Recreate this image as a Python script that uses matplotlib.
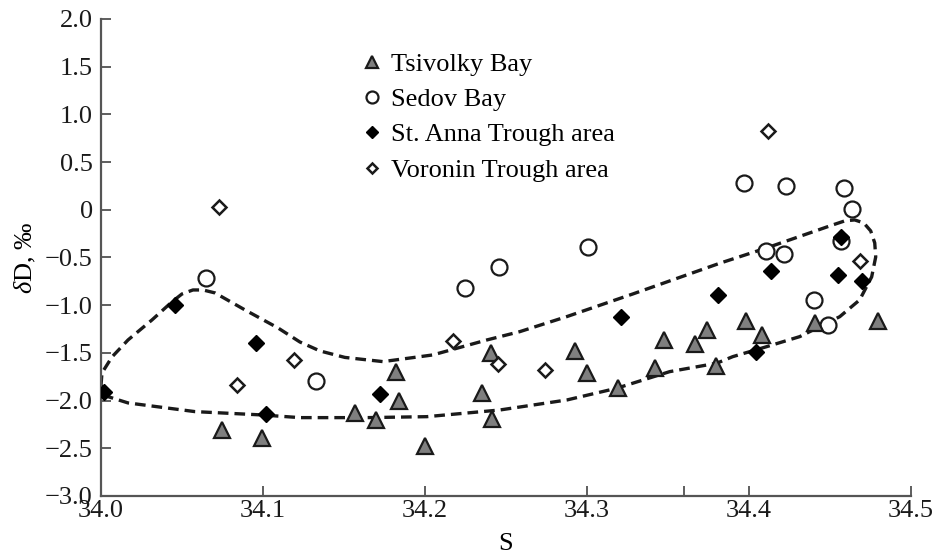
import matplotlib
matplotlib.use("Agg")
import matplotlib.pyplot as plt
from matplotlib.ticker import FixedLocator

plt.rcParams['font.family'] = ['Liberation Serif', 'DejaVu Serif']
plt.rcParams['mathtext.fontset'] = 'custom'
plt.rcParams['mathtext.rm'] = 'Liberation Serif'
plt.rcParams['mathtext.it'] = 'Liberation Serif:italic'

# Tsivolky Bay
tsiv_s = [34.075, 34.0995, 34.157, 34.170, 34.182, 34.184, 34.200, 34.235, 34.241, 34.2415,
          34.293, 34.300, 34.319, 34.342, 34.3475, 34.367, 34.374, 34.380, 34.398, 34.408,
          34.441, 34.480]
tsiv_d = [-2.31, -2.39, -2.13, -2.20, -1.70, -2.00, -2.48, -1.92, -1.50, -2.19,
          -1.48, -1.71, -1.87, -1.655, -1.37, -1.41, -1.26, -1.64, -1.17, -1.31,
          -1.19, -1.17]

# Sedov Bay
sedov_s = [34.065, 34.133, 34.225, 34.246, 34.301, 34.397, 34.423, 34.459, 34.464,
           34.4105, 34.422, 34.457, 34.440, 34.449]
sedov_d = [-0.72, -1.80, -0.82, -0.60, -0.39, 0.28, 0.25, 0.23, 0.01,
           -0.43, -0.46, -0.33, -0.95, -1.21]

# St. Anna Trough area
anna_s = [34.002, 34.0457, 34.0957, 34.1017, 34.172, 34.321, 34.381, 34.4136,
          34.455, 34.457, 34.470, 34.4047]
anna_d = [-1.91, -1.00, -1.40, -2.14, -1.93, -1.12, -0.89, -0.64,
          -0.68, -0.29, -0.75, -1.49]

# Voronin Trough area
vor_s = [34.073, 34.084, 34.119, 34.2175, 34.245, 34.274, 34.412, 34.469]
vor_d = [0.03, -1.84, -1.57, -1.38, -1.62, -1.68, 0.83, -0.54]

# hand-drawn envelope (dashed loop)
env_s = [34.000, 34.0006, 34.0068, 34.0167, 34.0315, 34.0438, 34.0500, 34.0568, 34.0630,
         34.0704, 34.0889, 34.1093, 34.1228, 34.1352, 34.1506, 34.1741, 34.2049, 34.2383,
         34.2586, 34.2877, 34.3284, 34.3821, 34.4111, 34.4519, 34.4593, 34.4654, 34.4710,
         34.4753, 34.4778, 34.4784, 34.4759, 34.4685, 34.4562, 34.4315, 34.4111, 34.3901,
         34.3802, 34.3512, 34.3185, 34.2877, 34.2463, 34.2012, 34.1642, 34.1228, 34.0994,
         34.0580, 34.0167, 34.0043, 34.000]
env_d = [-1.847, -1.711, -1.543, -1.365, -1.155, -0.966, -0.883, -0.841, -0.841,
         -0.872, -1.050, -1.239, -1.386, -1.480, -1.548, -1.592, -1.522, -1.365,
         -1.278, -1.120, -0.883, -0.561, -0.400, -0.159, -0.117, -0.107, -0.138,
         -0.222, -0.348, -0.495, -0.704, -0.945, -1.121, -1.330, -1.435, -1.540,
         -1.609, -1.697, -1.871, -1.994, -2.099, -2.169, -2.179, -2.179, -2.151,
         -2.116, -2.025, -1.959, -1.847]

x_ticks = [34.0, 34.1, 34.2, 34.3, 34.4, 34.5]
x_labels = ['34.0', '34.1', '34.2', '34.3', '34.4', '34.5']
y_ticks = [2.0, 1.5, 1.0, 0.5, 0.0, -0.5, -1.0, -1.5, -2.0, -2.5, -3.0]
y_labels = ['2.0', '1.5', '1.0', '0.5', '0', '\u22120.5', '\u22121.0', '\u22121.5',
            '\u22122.0', '\u22122.5', '\u22123.0']

fig = plt.figure(figsize=(9.35, 5.56), dpi=100)
ax = fig.add_axes([0.108, 0.108, 0.866, 0.858])

ax.plot(env_s, env_d, color='#1a1a1a', lw=2.4, ls=(0, (3.2, 1.8)), zorder=1)

ax.plot(tsiv_s, tsiv_d, ls='none', marker='^', ms=11, mfc='#7f7f7f', mec='#1a1a1a',
        mew=1.6, label='Tsivolky Bay', zorder=3)
ax.plot(sedov_s, sedov_d, ls='none', marker='o', ms=11.5, mfc='white', mec='#1a1a1a',
        mew=1.6, label='Sedov Bay', zorder=2)
ax.plot(anna_s, anna_d, ls='none', marker='D', ms=8.5, mfc='black', mec='black',
        mew=1.0, label='St. Anna Trough area', zorder=4)
ax.plot(vor_s, vor_d, ls='none', marker='D', ms=7, mfc='white', mec='#1a1a1a',
        mew=1.8, label='Voronin Trough area', zorder=4)

ax.set_xlim(34.0, 34.5)
ax.set_ylim(-3.0, 2.0)
ax.set_xticks(x_ticks)
ax.set_xticklabels(x_labels)
ax.set_yticks(y_ticks)
ax.set_yticklabels(y_labels)
ax.xaxis.set_minor_locator(FixedLocator([34.36]))
ax.yaxis.set_minor_locator(FixedLocator([]))

for side in ['top', 'right']:
    ax.spines[side].set_visible(False)
for side in ['left', 'bottom']:
    ax.spines[side].set_color('#555555')
    ax.spines[side].set_linewidth(1.6)
ax.tick_params(which='both', direction='in', length=7, width=1.1, color='#333333',
               labelsize=19, labelcolor='#1a1a1a')
ax.tick_params(axis='y', pad=6)
ax.tick_params(axis='x', pad=3)

ax.set_xlabel('S', fontsize=19, labelpad=8)
ax.set_ylabel(r'$\delta$D, $\it{‰}$', fontsize=19, labelpad=5)

leg = ax.legend(loc='upper left', bbox_to_anchor=(0.318, 0.93), frameon=False,
                fontsize=19, handletextpad=0.25, labelspacing=0.45, borderaxespad=0,
                borderpad=0, markerscale=0.75, handlelength=1.0)

fig.savefig('out.png', dpi=100)
